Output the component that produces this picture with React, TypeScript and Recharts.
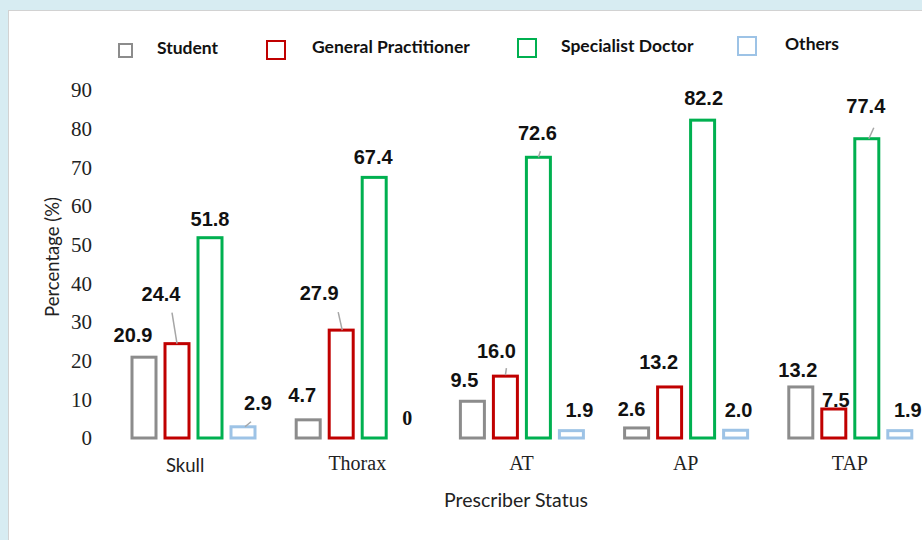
import React from 'react';
import { BarChart, Bar, XAxis, YAxis, LabelList, Legend } from 'recharts';

const categories = ['Skull', 'Thorax', 'AT', 'AP', 'TAP'];
const student = [20.9, 4.7, 9.5, 2.6, 13.2];
const generalPractitioner = [24.4, 27.9, 16.0, 13.2, 7.5];
const specialistDoctor = [51.8, 67.4, 72.6, 82.2, 77.4];
const others = [2.9, 0, 1.9, 2.0, 1.9];
const yTicks = [0, 10, 20, 30, 40, 50, 60, 70, 80, 90];

const data = categories.map((name, i) => ({
  name,
  student: student[i],
  gp: generalPractitioner[i],
  specialist: specialistDoctor[i],
  others: others[i],
}));

// hand-placed label nudges [dx, dy] from the bar top centre, like the original
const nudges: Record<string, [number, number][]> = {
  student: [[-11, -22], [-6, -25], [-8, -21], [-5, -19], [-3, -17]],
  gp: [[-16, -50], [-22, -37], [-9, -25], [-11, -25], [2, -9]],
  specialist: [[0, -19], [-1, -20], [-1, -24], [1, -22], [-1, -33]],
  others: [[15, -24], [0, -20], [8, -21], [3, -20], [8, -21]],
};

// leader lines [x1, y1, x2, y2] relative to bar top centre
const leaders: Record<string, ([number, number, number, number] | null)[]> = {
  student: [null, null, null, null, null],
  gp: [[-5, -31, 0, 0], [-3, -18, 1, 0], [1, -8, 0, -1], null, null],
  specialist: [null, null, [2, -6, 0, 0], null, [7, -11, 2, 0]],
  others: [[2, 0, 8, -5], null, null, null, null],
};

const SERIES = [
  { key: 'student', name: 'Student', color: '#8c8c8c' },
  { key: 'gp', name: 'General Practitioner', color: '#c00000' },
  { key: 'specialist', name: 'Specialist Doctor', color: '#00b050' },
  { key: 'others', name: 'Others', color: '#9dc3e6' },
];

const SANS = 'Lato, "Open Sans", sans-serif';
const SERIF = '"Liberation Serif", "Times New Roman", serif';
const LABEL_FONT = '"Liberation Sans", Arial, sans-serif';

function makeLabel(seriesKey: string) {
  return (props: any) => {
    const { x, y, width, value, index } = props;
    if (value === 0 || value == null) return null;
    const [dx, dy] = nudges[seriesKey][index] || [0, -20];
    const cx = x + width / 2;
    const lead = leaders[seriesKey][index];
    return (
      <g>
        {lead && (
          <line x1={cx + lead[0]} y1={y + lead[1]} x2={cx + lead[2]} y2={y + lead[3]} stroke="#a6a6a6" strokeWidth={1.5} />
        )}
        <text x={cx + dx} y={y + dy + 7} textAnchor="middle" fontFamily={LABEL_FONT} fontWeight={700} fontSize={20} fill="#111">
          {Number(value).toFixed(1)}
        </text>
      </g>
    );
  };
}

// bar outline; a zero bar draws nothing but its serif "0"
function makeShape(seriesKey: string, color: string) {
  return (props: any) => {
    const { x, y, width, height, index } = props;
    const v = props[seriesKey] ?? props.value;
    if (!height || v === 0) {
      const [dx, dy] = nudges[seriesKey][index] || [0, -20];
      return (
        <text x={x + width / 2 + dx} y={y + dy + 7} textAnchor="middle" fontFamily={SERIF} fontWeight={700} fontSize={20} fill="#111">
          0
        </text>
      );
    }
    return <rect x={x} y={y} width={width} height={height} fill="#fff" stroke={color} strokeWidth={3} />;
  };
}

const legendItems = [
  { left: 118, top: 43, size: 14, text: 157, ty: 48 },
  { left: 266, top: 40, size: 19, text: 312, ty: 47 },
  { left: 517, top: 38, size: 19, text: 561, ty: 46 },
  { left: 737, top: 36, size: 19, text: 785, ty: 44 },
];

function renderLegend() {
  return (
    <div style={{ position: 'relative', width: 922, height: 60 }}>
      {SERIES.map((s, i) => {
        const it = legendItems[i];
        return (
          <React.Fragment key={s.key}>
            <div
              style={{
                position: 'absolute',
                left: it.left,
                top: it.top - 30,
                width: it.size - 3,
                height: it.size - 3,
                border: `2px solid ${s.color}`,
                background: '#fff',
              }}
            />
            <div
              style={{
                position: 'absolute',
                left: it.text,
                top: it.ty - 30 - 11,
                fontFamily: SANS,
                fontWeight: 700,
                fontSize: 17.5,
                lineHeight: '22px',
                color: '#111',
                whiteSpace: 'nowrap',
              }}
            >
              {s.name}
            </div>
          </React.Fragment>
        );
      })}
    </div>
  );
}

function XTick(props: any) {
  const { x, payload } = props;
  const isSkull = payload.value === 'Skull';
  return (
    <text
      x={x + (isSkull ? -8 : 0)}
      y={isSkull ? 472 : 470}
      textAnchor="middle"
      fontFamily={isSkull ? SANS : SERIF}
      fontSize={isSkull ? 18.5 : 20}
      fill="#222"
    >
      {payload.value}
    </text>
  );
}

export default function App() {
  return (
    <div style={{ position: 'fixed', left: 0, top: 0, width: 922, height: 540, overflow: 'hidden', background: '#d7ecf2' }}>
      <div
        style={{
          position: 'absolute',
          left: 8,
          top: 10,
          width: 940,
          height: 560,
          background: '#fff',
          border: '1px solid #d2d2d2',
        }}
      />
      <div style={{ position: 'absolute', left: 0, top: 0 }}>
        <BarChart
          width={960}
          height={540}
          data={data}
          margin={{ top: 30, right: 28, left: 71, bottom: 72 }}
          barSize={24}
          barGap={9}
        >
          <Legend
            verticalAlign="top"
            align="left"
            height={60}
            content={renderLegend}
            wrapperStyle={{ top: 30, left: 0 }}
          />
          <XAxis
            dataKey="name"
            axisLine={false}
            tickLine={false}
            height={30}
            tick={<XTick />}
            interval={0}
            label={{
              content: () => (
                <text x={516} y={507} textAnchor="middle" fontFamily={SANS} fontSize={19.5} fill="#222">
                  Prescriber Status
                </text>
              ),
            }}
          />
          <YAxis
            domain={[0, 90]}
            ticks={yTicks}
            width={40}
            axisLine={false}
            tickLine={false}
            tickMargin={13}
            tick={{ fontFamily: SERIF, fontSize: 21, fill: '#222' }}
            label={{
              content: () => (
                <text
                  x={59}
                  y={257}
                  transform="rotate(-90 59 257)"
                  textAnchor="middle"
                  fontFamily={SANS}
                  fontSize={18.5}
                  fill="#222"
                >
                  Percentage (%)
                </text>
              ),
            }}
          />
          {SERIES.map((s) => (
            <Bar
              key={s.key}
              dataKey={s.key}
              name={s.name}
              fill="#fff"
              stroke={s.color}
              strokeWidth={3}
              shape={makeShape(s.key, s.color)}
              isAnimationActive={false}
            >
              <LabelList dataKey={s.key} content={makeLabel(s.key)} />
            </Bar>
          ))}
        </BarChart>
      </div>
    </div>
  );
}
